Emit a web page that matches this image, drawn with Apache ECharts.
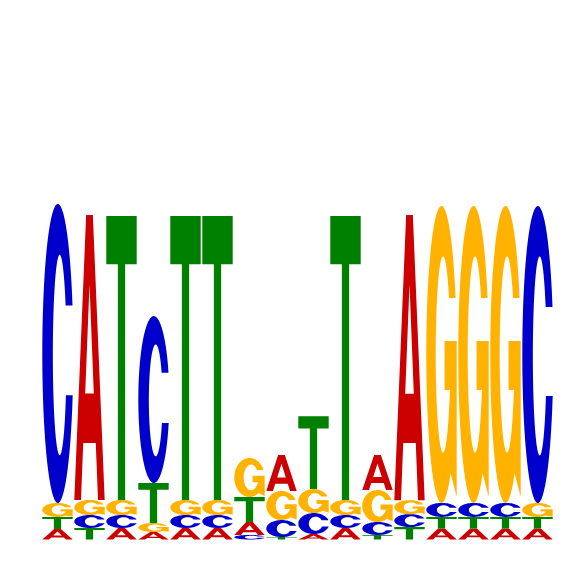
<!DOCTYPE html>
<html>
<head>
<meta charset="utf-8">
<script src="https://cdn.jsdelivr.net/npm/echarts@6/dist/echarts.min.js"></script>
<style>
html,body{margin:0;padding:0;background:#fff;}
#chart{width:566px;height:566px;}
</style>
</head>
<body>
<div id="chart"></div>
<script>
// Motif positions
const positions = [1,2,3,4,5,6,7,8,9,10,11,12,13,14,15,16];
// Letter heights (bits) per position
const A_bits = [0.060,1.629,0.066,0.043,0.066,0.066,0.074,0.206,0.031,0.066,0.200,1.629,0.063,0.063,0.063,0.063];
const C_bits = [1.709,0.074,0.074,0.954,0.074,0.074,0.026,0.097,0.120,0.074,0.074,0.074,0.080,0.080,0.080,1.697];
const G_bits = [0.080,0.086,0.086,0.051,0.086,0.086,0.223,0.166,0.137,0.086,0.183,0.080,1.697,1.697,1.697,0.080];
const T_bits = [0.069,0.066,1.623,0.229,1.623,1.623,0.143,0.014,0.417,1.623,0.026,0.071,0.066,0.066,0.066,0.066];
const letters = ['A','C','G','T'];
const colors = {A:'#CC0000', C:'#0000CC', G:'#FFB300', T:'#008000'};

// Glyph outlines in a 100x100 box
function arc(cx,cy,rx,ry,t0,t1,n){
  const pts=[];
  for(let i=0;i<=n;i++){const t=t0+(t1-t0)*i/n;pts.push([(cx+rx*Math.cos(t))*100,(cy+ry*Math.sin(t))*100]);}
  return pts;
}
function poly(pts){return 'M'+pts.map(p=>p[0].toFixed(2)+','+p[1].toFixed(2)).join(' L')+' Z';}
const TWO_PI=Math.PI*2;
const pathC = (function(){
  const outer = arc(0.5,0.5,0.5,0.5,-Math.asin(0.32),Math.asin(0.28)-TWO_PI,64);
  const inner = arc(0.56,0.505,0.22,0.335,Math.asin((0.64-0.505)/0.335),TWO_PI-Math.asin((0.505-0.34)/0.335),64);
  return poly(outer.concat(inner));
})();
const pathG = (function(){
  const outer = arc(0.5,0.5,0.5,0.5,-Math.asin(0.38),0.927-TWO_PI,64);
  const mid = [[100,98],[100,45.5],[60,45.5],[60,62],[78,62]];
  const inner = arc(0.55,0.5,0.24,0.33,0.6,TWO_PI-Math.asin((0.5-0.31)/0.33),64);
  return poly(outer.concat(mid).concat(inner));
})();
const pathA = 'M0,100 L39,0 L61,0 L100,100 L78,100 L70.6,80 L29.4,80 L22,100 Z M35.8,62.7 L64.2,62.7 L50,24.4 Z';
const pathT = 'M0,0 L100,0 L100,17 L62,17 L62,100 L38,100 L38,17 L0,17 Z';
const paths = {A:pathA, C:pathC, G:pathG, T:pathT};

const table = {A:A_bits, C:C_bits, G:G_bits, T:T_bits};
const data = [];
positions.forEach((pos,i)=>{
  const stack = letters.map((l,k)=>({l:l,k:k,v:table[l][i]}));
  stack.sort((a,b)=>a.v-b.v);
  let y=0;
  stack.forEach(s=>{data.push([pos,y,y+s.v,s.k]);y+=s.v;});
});

const chart = echarts.init(document.getElementById('chart'));
chart.setOption({
  animation:false,
  backgroundColor:'#fff',
  grid:{left:41.5,right:12.5,top:189.5,bottom:26.5},
  xAxis:{type:'value',min:0.5,max:16.5,show:false},
  yAxis:{type:'value',min:0,max:2,show:false},
  series:[{
    type:'custom',
    encode:{x:0,y:[1,2]},
    data:data,
    renderItem:function(params,api){
      const x=api.value(0),y0=api.value(1),y1=api.value(2),l=letters[api.value(3)];
      const p0=api.coord([x-0.475,y1]);
      const p1=api.coord([x+0.475,y0]);
      return {
        type:'path',
        shape:{pathData:paths[l],x:p0[0],y:p0[1],width:p1[0]-p0[0],height:p1[1]-p0[1],layout:'cover'},
        style:{fill:colors[l]}
      };
    }
  }]
});
</script>
</body>
</html>
